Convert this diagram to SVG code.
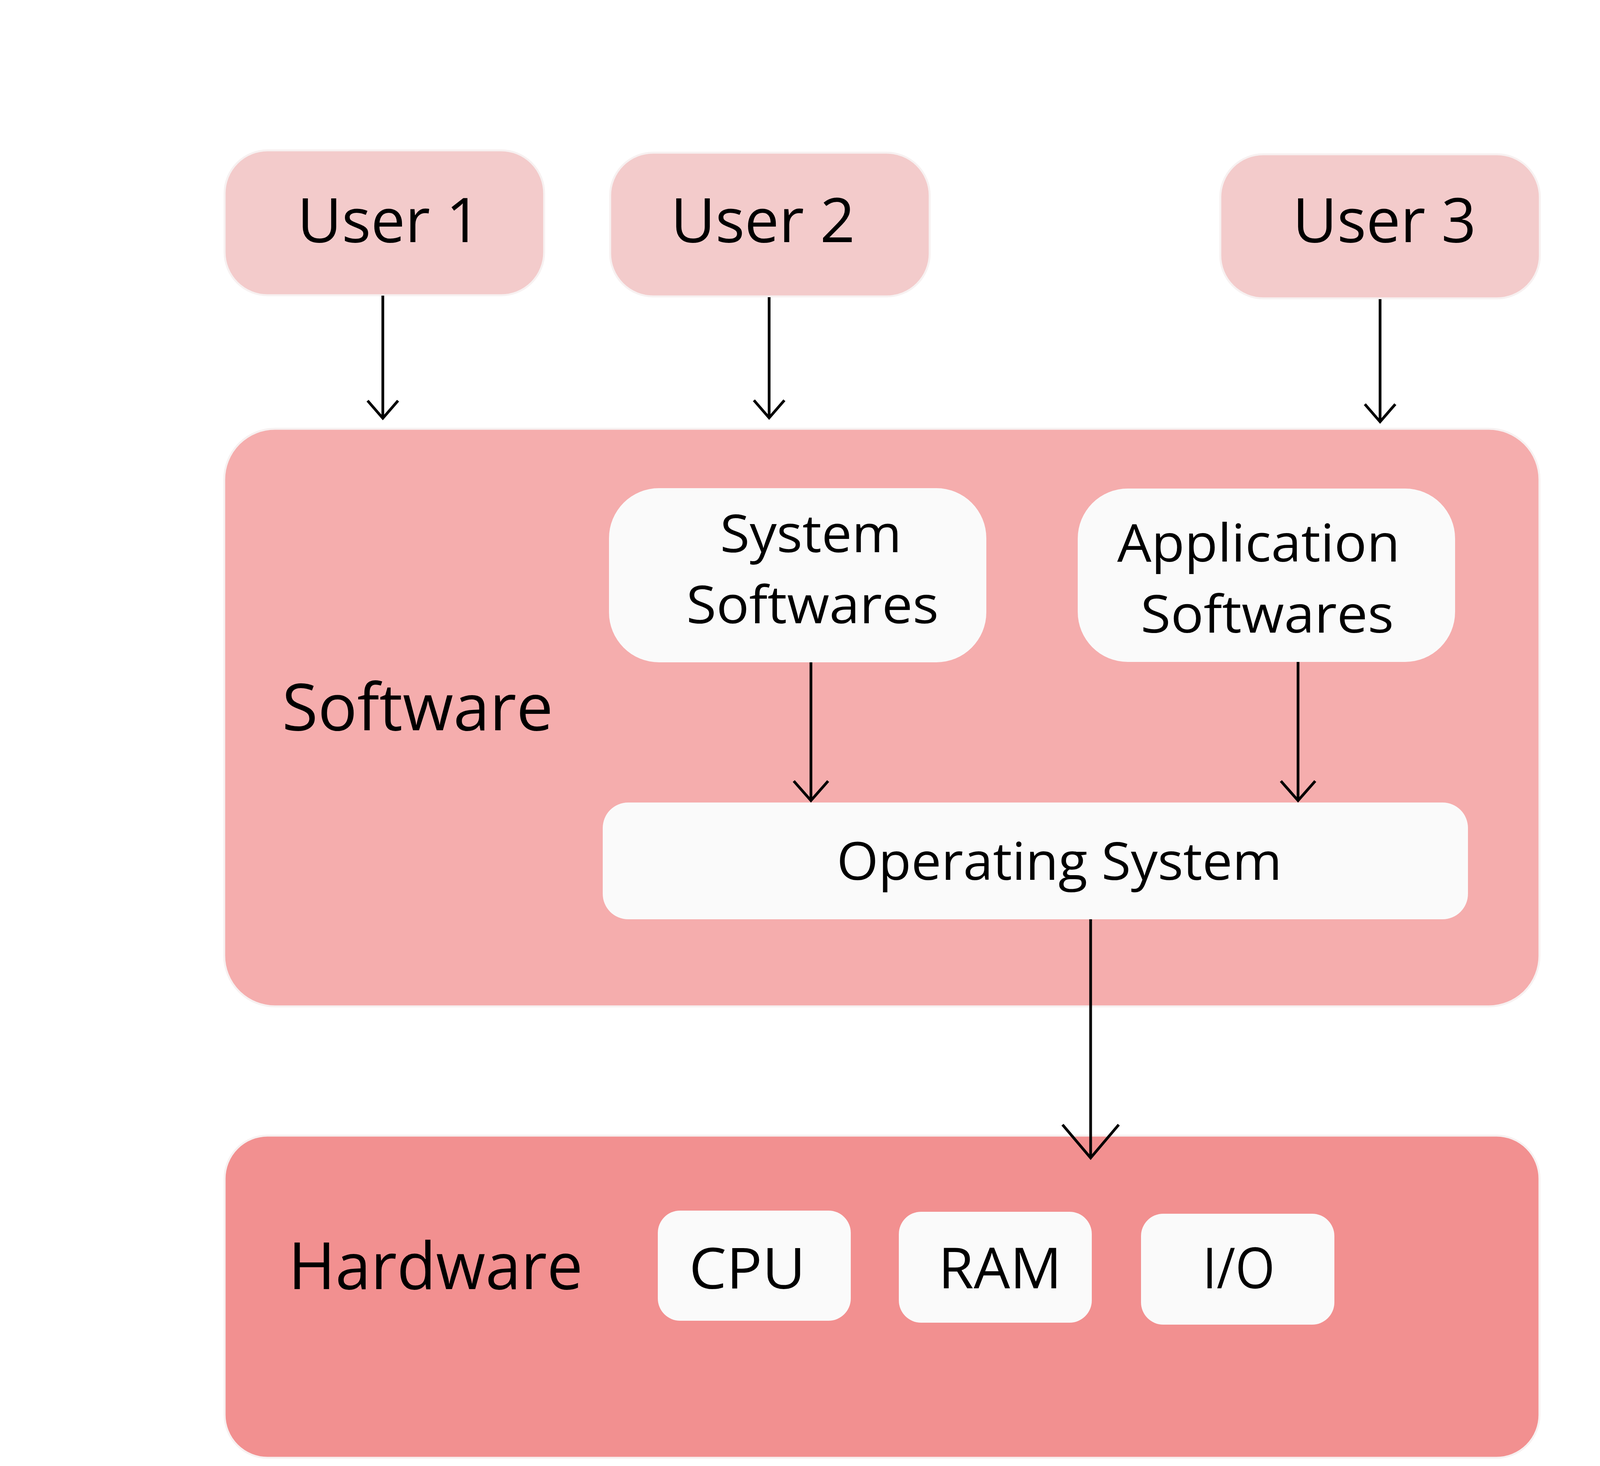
<svg xmlns="http://www.w3.org/2000/svg" width="4493" height="3754" viewBox="0 0 4493 3754">
<style>
.bg{fill:#ffffff}
.user{fill:#f3cbcb;stroke:#f7f1f1;stroke-width:5}
.sw{fill:#f5adad;stroke:#f7f1f1;stroke-width:5}
.hw{fill:#f29090;stroke:#f7f1f1;stroke-width:5}
.inner{fill:#fafafa}
text{font-family:"Open Sans",Lato,"Noto Sans",sans-serif;fill:#000000;text-anchor:middle}
.t-user{font-size:158px}
.t-big{font-size:166px}
.t-in{font-size:133px}
.t-os{font-size:134px}
.t-hw{font-size:144px}
.conn{fill:none;stroke:#000000;stroke-width:7}
.head{fill:none;stroke:#000000;stroke-width:7;stroke-linejoin:miter}
</style>
<defs>
<marker id="arrS" markerUnits="userSpaceOnUse" orient="auto" refX="0" refY="0" markerWidth="100" markerHeight="100" overflow="visible">
<path class="head" d="M-45,-39 L0,0 L-45,39"/>
</marker>
<marker id="arrM" markerUnits="userSpaceOnUse" orient="auto" refX="0" refY="0" markerWidth="100" markerHeight="100" overflow="visible">
<path class="head" d="M-50,-44 L0,0 L-50,44"/>
</marker>
<marker id="arrL" markerUnits="userSpaceOnUse" orient="auto" refX="0" refY="0" markerWidth="200" markerHeight="200" overflow="visible">
<path class="head" d="M-85,-72 L0,0 L-85,72"/>
</marker>
</defs>
<rect class="bg" x="0" y="0" width="4493" height="3754"/>

<g id="user1">
<rect class="user" x="575" y="385" width="818" height="371" rx="110" ry="110"/>
<text class="t-user" x="996" y="620" textLength="470" lengthAdjust="spacingAndGlyphs">User 1</text>
</g>
<g id="user2">
<rect class="user" x="1562" y="391" width="818" height="368" rx="110" ry="110"/>
<text class="t-user" x="1953" y="620" textLength="472" lengthAdjust="spacingAndGlyphs">User 2</text>
</g>
<g id="user3">
<rect class="user" x="3124" y="395" width="818" height="369" rx="110" ry="110"/>
<text class="t-user" x="3544" y="620" textLength="470" lengthAdjust="spacingAndGlyphs">User 3</text>
</g>

<g id="software">
<rect class="sw" x="574" y="1098" width="3367" height="1479" rx="130" ry="130"/>
<text class="t-big" x="1069" y="1870" textLength="694" lengthAdjust="spacingAndGlyphs">Software</text>
</g>
<g id="system-softwares">
<rect class="inner" x="1559" y="1250" width="966" height="446" rx="128" ry="128"/>
<text class="t-in"><tspan x="2076" y="1414" textLength="465" lengthAdjust="spacingAndGlyphs">System</tspan><tspan x="2080" y="1596" textLength="646" lengthAdjust="spacingAndGlyphs">Softwares</tspan></text>
</g>
<g id="application-softwares">
<rect class="inner" x="2759" y="1251" width="966" height="444" rx="128" ry="128"/>
<text class="t-in"><tspan x="3222" y="1438" textLength="724" lengthAdjust="spacingAndGlyphs">Application</tspan><tspan x="3244" y="1620" textLength="648" lengthAdjust="spacingAndGlyphs">Softwares</tspan></text>
</g>
<g id="operating-system">
<rect class="inner" x="1543" y="2055" width="2215" height="299" rx="65" ry="65"/>
<text class="t-os" x="2712" y="2253" textLength="1140" lengthAdjust="spacingAndGlyphs">Operating System</text>
</g>

<g id="hardware">
<rect class="hw" x="575" y="2908" width="3366" height="825" rx="110" ry="110"/>
<text class="t-big" x="1115" y="3301" textLength="754" lengthAdjust="spacingAndGlyphs">Hardware</text>
</g>
<g id="cpu">
<rect class="inner" x="1684" y="3100" width="494" height="282" rx="57" ry="57"/>
<text class="t-hw" x="1913" y="3300" textLength="298" lengthAdjust="spacingAndGlyphs">CPU</text>
</g>
<g id="ram">
<rect class="inner" x="2301" y="3103" width="494" height="284" rx="57" ry="57"/>
<text class="t-hw" x="2560" y="3299" textLength="316" lengthAdjust="spacingAndGlyphs">RAM</text>
</g>
<g id="io">
<rect class="inner" x="2921" y="3108" width="495" height="284" rx="57" ry="57"/>
<text class="t-hw" x="3171" y="3299" textLength="185" lengthAdjust="spacingAndGlyphs">I/O</text>
</g>

<g id="connectors">
<path class="conn" d="M980,757 L980,1071" marker-end="url(#arrS)"/>
<path class="conn" d="M1969,761 L1969,1070" marker-end="url(#arrS)"/>
<path class="conn" d="M3533,766 L3533,1080" marker-end="url(#arrS)"/>
<path class="conn" d="M2076,1696 L2076,2050" marker-end="url(#arrM)"/>
<path class="conn" d="M3323,1695 L3323,2050" marker-end="url(#arrM)"/>
<path class="conn" d="M2792,2354 L2792,2965" marker-end="url(#arrL)"/>
</g>
</svg>
